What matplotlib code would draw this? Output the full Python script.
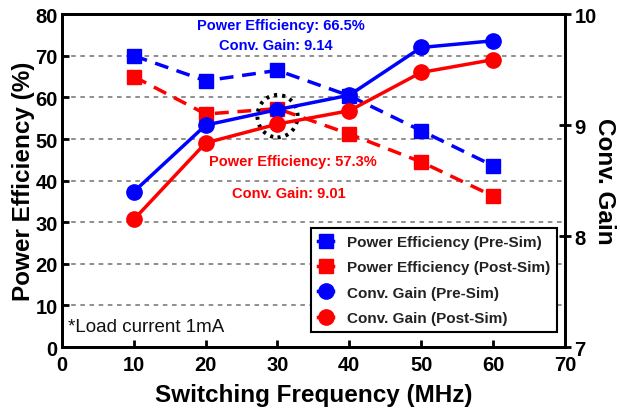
"""
Power efficiency and conversion gain vs switching frequency.
"""

import matplotlib
matplotlib.use("Agg")
import matplotlib.pyplot as plt
from matplotlib.lines import Line2D
from matplotlib.patches import Ellipse

plt.rcParams['font.family'] = ['Liberation Sans', 'DejaVu Sans']

freq_mhz = [10, 20, 30, 40, 50, 60]
eff_pre = [70, 64, 66.5, 60.4, 52, 43.6]
eff_post = [65, 56, 57.3, 51.2, 44.5, 36.3]
gain_pre = [8.40, 9.00, 9.14, 9.27, 9.70, 9.76]
gain_post = [8.15, 8.84, 9.01, 9.13, 9.475, 9.59]
legend_labels = ['Power Efficiency (Pre-Sim)', 'Power Efficiency (Post-Sim)',
                 'Conv. Gain (Pre-Sim)', 'Conv. Gain (Post-Sim)']

BLUE = '#0000ff'
RED = '#ff0000'

fig = plt.figure(figsize=(6.2, 4.1), dpi=100)
ax = fig.add_axes([0.1, 0.151, 0.811, 0.812])
ax2 = ax.twinx()

# gridlines belong to the efficiency axis
for v in range(10, 80, 10):
    ax.axhline(v, color='#707070', lw=1.1, ls=(0, (3, 3)), zorder=0)

ax.plot(freq_mhz, eff_pre, color=BLUE, lw=2.5, ls=(0, (4, 2.5)),
        marker='s', ms=10, zorder=3)
ax.plot(freq_mhz, eff_post, color=RED, lw=2.5, ls=(0, (4, 2.5)),
        marker='s', ms=10, zorder=3)
ax2.plot(freq_mhz, gain_pre, color=BLUE, lw=2.5, marker='o', ms=11, zorder=3)
ax2.plot(freq_mhz, gain_post, color=RED, lw=2.5, marker='o', ms=11, zorder=3)

ax.set_xlim(0, 70)
ax.set_ylim(0, 80)
ax2.set_ylim(7, 10)
ax.set_xticks(range(0, 71, 10))
ax.set_yticks(range(0, 81, 10))
ax2.set_yticks([7, 8, 9, 10])

for a in (ax, ax2):
    for s in a.spines.values():
        s.set_linewidth(2)
    a.tick_params(width=2, length=5, labelsize=14.5)
    for lab in a.get_xticklabels() + a.get_yticklabels():
        lab.set_fontweight('bold')
ax.tick_params(axis='y', direction='in', pad=3)
ax.tick_params(axis='x', direction='in', pad=6)
ax2.tick_params(direction='inout', length=8, pad=3)

ax.set_xlabel('Switching Frequency (MHz)', fontsize=17.5, fontweight='bold', labelpad=6)
ax.set_ylabel('Power Efficiency (%)', fontsize=17.5, fontweight='bold', labelpad=0)
ax2.set_ylabel('Conv. Gain', fontsize=17.5, fontweight='bold', rotation=270, labelpad=14)

# highlight at 30 MHz
ax.add_patch(Ellipse((30, 55.5), 5.6, 10.2, fill=False, ec='black', lw=2.8,
                     ls=(0, (0.8, 1.3)), zorder=4))

ax.text(30.5, 79, 'Power Efficiency: 66.5%', color=BLUE, fontsize=10.5,
        fontweight='bold', ha='center', va='top')
ax.text(29.8, 74.3, 'Conv. Gain: 9.14', color=BLUE, fontsize=10.5,
        fontweight='bold', ha='center', va='top')
ax.text(32.2, 46.4, 'Power Efficiency: 57.3%', color=RED, fontsize=10.5,
        fontweight='bold', ha='center', va='top')
ax.text(31.6, 38.6, 'Conv. Gain: 9.01', color=RED, fontsize=10.5,
        fontweight='bold', ha='center', va='top')
ax.text(0.8, 5, '*Load current 1mA', color='#111111', fontsize=13.5, va='center')

handles = [Line2D([], [], color=BLUE, marker='s', ms=10, lw=2.5),
           Line2D([], [], color=RED, marker='s', ms=10, lw=2.5),
           Line2D([], [], color=BLUE, marker='o', ms=11, lw=2.5),
           Line2D([], [], color=RED, marker='o', ms=11, lw=2.5)]
leg = ax2.legend(handles=handles, labels=legend_labels, loc='lower right',
                 bbox_to_anchor=(0.985, 0.045), fontsize=11, handlelength=1.0,
                 borderpad=0.45, labelspacing=0.75, handletextpad=0.9,
                 borderaxespad=0, fancybox=False, framealpha=1, edgecolor='black')
leg.get_frame().set_linewidth(1.5)
for t in leg.get_texts():
    t.set_fontweight('bold')
    t.set_color('#222222')

fig.savefig('out.png', dpi=100)
